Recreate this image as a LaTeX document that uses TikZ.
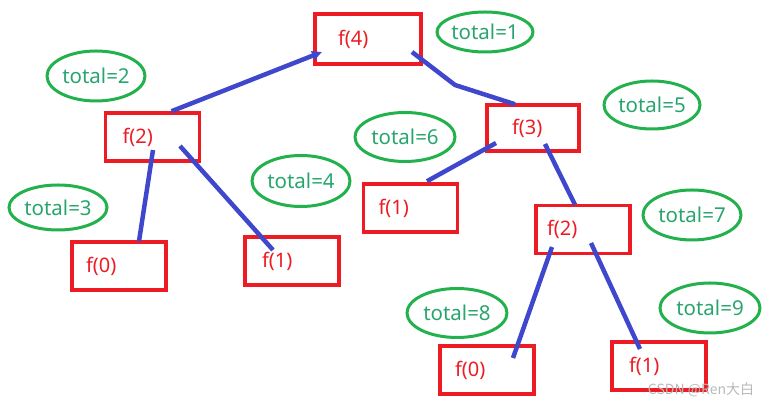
\documentclass[tikz,border=0pt]{standalone}
\usepackage{fontspec}
\setmainfont{Noto Sans}
\newfontfamily\cjk{Noto Sans CJK SC}
\usetikzlibrary{arrows.meta, positioning, shapes.geometric, calc}
\definecolor{boxred}{RGB}{237,28,36}
\definecolor{ovalgreen}{RGB}{34,177,76}
\definecolor{totalgreen}{RGB}{40,165,110}
\definecolor{lineblue}{RGB}{63,72,204}

\begin{document}
\begin{tikzpicture}[x=1pt, y=1pt,
    box style/.style={rectangle, draw=boxred, line width=3.5pt, minimum width=94pt, minimum height=48pt, inner sep=0pt, align=left, text width=#1, text=boxred, font=\fontsize{20}{24}\selectfont},
    box style/.default=60pt,
    total style/.style={ellipse, draw=ovalgreen, line width=3pt, minimum width=98pt, minimum height=48pt, inner sep=0pt, text=totalgreen, font=\fontsize{20.5}{24}\selectfont},
    edge style/.style={draw=lineblue, line width=4.5pt}
]
        \useasboundingbox (0,0) rectangle (772,406);

        % call tree
        \node[box style, minimum width=106pt, minimum height=50pt] (f4) at (368,367) {f(4)};
        \node[box style] (f2L) at (152.5,269) {f(2)};
        \node[box style=66pt] (f0L) at (119,140) {f(0)};
        \node[box style] (f1L) at (292,145) {f(1)};
        \node[box style=42pt, minimum width=92pt, minimum height=46pt] (f3) at (533,278) {f(3)};
        \node[box style=64pt] (f1M) at (410.5,198) {\raisebox{-4pt}{f(1)}};
        \node[box style=72pt] (f2R) at (583,176.5) {\raisebox{-6pt}{f(2)}};
        \node[box style=64pt] (f0R) at (487,36) {f(0)};
        \node[box style] (f1R) at (659,40) {f(1)};

        % running count
        \node[total style, minimum width=96pt, minimum height=40pt] (t1) at (485,374) {total=1};
        \node[total style, minimum height=50pt] (t2) at (96,330) {total=2};
        \node[total style, minimum height=45pt] (t3) at (58,198.5) {total=3};
        \node[total style, minimum height=51pt] (t4) at (301,225) {total=4};
        \node[total style, minimum width=96pt] (t5) at (652,301) {total=5};
        \node[total style, minimum width=100pt, minimum height=49pt] (t6) at (405,269) {total=6};
        \node[total style, minimum height=50pt] (t7) at (692,191) {total=7};
        \node[total style, minimum width=100pt, minimum height=49pt] (t8) at (457,93) {total=8};
        \node[total style, minimum width=100pt, minimum height=50pt] (t9) at (710,98) {total=9};

        \coordinate (bend43) at (455,321);

        \draw[edge style, -{Triangle[length=10pt, width=9pt]}] ($(f2L.north)+(19,0)$) -- ($(f4.center)+(-46,-13)$);
        \draw[edge style] ($(f4.center)+(44,-13)$) -- (bend43) -- ($(f3.north)+(-18,-1)$);
        \draw[edge style] ($(f2L.center)+(0.5,-13)$) -- ($(f0L.north)+(20,-1)$);
        \draw[edge style] ($(f2L.center)+(27.5,-9)$) -- ($(f1L.center)+(-19,11)$);
        \draw[edge style] ($(f3.center)+(-37,-15)$) -- ($(f1M.north)+(16.5,1)$);
        \draw[edge style] ($(f3.center)+(12,-16)$) -- ($(f2R.north)+(-8,-1)$);
        \draw[edge style] ($(f2R.center)+(-31,-17.5)$) -- ($(f0R.center)+(26,12)$);
        \draw[edge style] ($(f2R.center)+(8,-13.5)$) -- ($(f1R.center)+(-19,17)$);

        \node[text=gray!55, font=\cjk\fontsize{14}{16}\selectfont] (mark) at (701,16) {CSDN @Ren大白};
    \end{tikzpicture}
\end{document}
